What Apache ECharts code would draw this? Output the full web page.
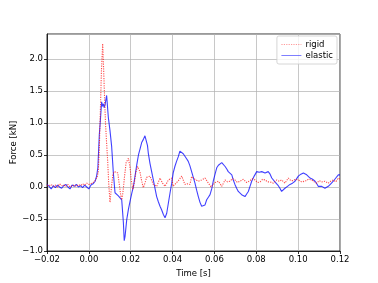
<!DOCTYPE html>
<html>
<head>
<meta charset="utf-8">
<script src="https://cdn.jsdelivr.net/npm/echarts@6/dist/echarts.min.js"></script>
<style>html,body{margin:0;padding:0;background:#fff}#c{width:378px;height:283px}</style>
</head>
<body>
<div id="c"></div>
<script>
var xTicks = [-0.02, 0.00, 0.02, 0.04, 0.06, 0.08, 0.10, 0.12];
var yTicks = [-1.0, -0.5, 0.0, 0.5, 1.0, 1.5, 2.0];
var seriesNames = ['rigid', 'elastic'];

var rigidTime = [-0.020,-0.019,-0.018,-0.017,-0.016,-0.015,-0.014,-0.013,-0.012,-0.011,-0.010,-0.009,-0.008,-0.007,-0.006,-0.005,-0.004,-0.003,-0.002,-0.001,0.000,0.001,0.002,0.003,0.004,0.0045,0.005,0.0055,0.006,0.0066,0.007,0.0075,0.008,0.009,0.0095,0.0101,0.0108,0.0115,0.0122,0.013,0.0138,0.0145,0.0152,0.0157,0.0163,0.017,0.0178,0.0189,0.0197,0.0203,0.021,0.0218,0.0226,0.0233,0.0244,0.0252,0.026,0.0268,0.0276,0.0292,0.0308,0.0324,0.034,0.0352,0.0364,0.038,0.0396,0.0403,0.0412,0.0428,0.0444,0.0459,0.047,0.0483,0.0491,0.0507,0.0523,0.0539,0.0555,0.0571,0.0584,0.0603,0.0619,0.0635,0.0651,0.0662,0.0674,0.0686,0.0698,0.071,0.0722,0.0738,0.0754,0.077,0.0782,0.0794,0.0806,0.0818,0.083,0.0842,0.0854,0.0866,0.0881,0.0898,0.091,0.0921,0.0937,0.0953,0.0965,0.0975,0.0988,0.1001,0.1017,0.1033,0.1049,0.1065,0.1077,0.1089,0.1101,0.1113,0.1128,0.1144,0.1156,0.1168,0.118,0.1192,0.120];
var rigidForce = [0.03,0.02,0.04,0.01,0.03,0.00,0.05,0.02,0.03,0.01,0.04,0.00,0.02,0.03,0.01,0.04,0.02,0.05,0.03,0.06,0.04,0.05,0.07,0.10,0.16,0.24,0.60,1.20,1.80,2.24,1.90,1.40,0.96,0.40,0.05,-0.24,0.00,0.20,0.24,0.26,0.22,0.05,-0.12,-0.20,-0.08,0.15,0.38,0.45,0.30,0.10,-0.04,0.08,0.25,0.32,0.24,0.10,-0.01,0.06,0.15,0.17,0.04,0.01,0.14,0.06,0.01,0.11,0.14,0.01,0.04,0.10,0.17,0.04,0.05,0.04,0.16,0.12,0.09,0.11,0.14,0.06,0.00,0.07,0.09,0.01,0.11,0.08,0.09,0.13,0.11,0.07,0.09,0.12,0.07,0.10,0.13,0.11,0.07,0.08,0.12,0.11,0.08,0.08,0.06,0.11,0.09,0.11,0.06,0.14,0.10,0.10,0.12,0.11,0.08,0.09,0.12,0.11,0.08,0.06,0.10,0.08,0.09,0.06,0.09,0.11,0.08,0.14,0.12];

var elasticTime = [-0.020,-0.019,-0.018,-0.017,-0.016,-0.015,-0.014,-0.013,-0.012,-0.011,-0.010,-0.009,-0.008,-0.007,-0.006,-0.005,-0.004,-0.003,-0.002,-0.001,0.000,0.001,0.002,0.003,0.0037,0.0043,0.005,0.0055,0.0061,0.0065,0.0069,0.0073,0.0077,0.0085,0.0093,0.0101,0.0109,0.0117,0.0125,0.0133,0.0141,0.0149,0.0157,0.0165,0.0169,0.0173,0.0181,0.0189,0.0197,0.0205,0.0213,0.0221,0.0229,0.0237,0.0245,0.0253,0.026,0.0268,0.0276,0.028,0.0284,0.0292,0.03,0.0308,0.0316,0.0324,0.0332,0.034,0.0348,0.0356,0.0364,0.0372,0.038,0.0388,0.0396,0.0403,0.0411,0.0419,0.0427,0.0435,0.0444,0.0451,0.0459,0.0467,0.0475,0.0483,0.0491,0.0499,0.0507,0.0515,0.0523,0.0531,0.0539,0.0547,0.0555,0.0563,0.0571,0.0579,0.0587,0.0595,0.0603,0.0611,0.0619,0.0627,0.0635,0.0643,0.0651,0.0659,0.0666,0.0675,0.0683,0.069,0.0698,0.0706,0.0714,0.0722,0.073,0.0738,0.0746,0.0754,0.0762,0.077,0.0778,0.079,0.0802,0.0814,0.0826,0.0834,0.0842,0.085,0.0857,0.0866,0.0874,0.0881,0.0889,0.0897,0.0905,0.0913,0.0921,0.0929,0.0937,0.0949,0.0961,0.0973,0.0985,0.0993,0.1001,0.1013,0.1025,0.1033,0.1041,0.1049,0.1057,0.1069,0.1081,0.1089,0.1096,0.1104,0.1113,0.1121,0.1128,0.1136,0.1144,0.1156,0.1168,0.118,0.1192,0.120];
var elasticForce = [0.04,0.01,-0.03,0.02,-0.01,0.03,0.00,-0.02,0.02,0.04,0.00,-0.03,0.03,0.01,0.04,0.00,0.02,-0.01,0.03,0.00,-0.03,0.03,0.05,0.09,0.17,0.30,0.82,1.04,1.33,1.26,1.30,1.24,1.28,1.43,1.09,0.88,0.63,0.22,-0.09,-0.12,-0.14,-0.17,-0.20,-0.56,-0.84,-0.77,-0.51,-0.35,-0.22,-0.10,0.01,0.18,0.35,0.50,0.60,0.70,0.74,0.80,0.79,0.65,0.53,0.37,0.24,0.11,-0.02,-0.15,-0.23,-0.30,-0.36,-0.43,-0.48,-0.41,-0.25,-0.09,0.06,0.22,0.32,0.40,0.47,0.56,0.54,0.52,0.48,0.44,0.40,0.33,0.24,0.15,0.06,-0.05,-0.15,-0.24,-0.30,-0.33,-0.28,-0.20,-0.16,-0.12,-0.03,0.10,0.20,0.30,0.34,0.37,0.38,0.40,0.32,0.28,0.24,0.22,0.19,0.11,0.04,-0.02,-0.07,-0.10,-0.12,-0.13,-0.15,-0.11,-0.07,0.01,0.09,0.17,0.24,0.23,0.24,0.22,0.22,0.24,0.24,0.20,0.14,0.11,0.08,0.05,0.02,-0.02,-0.07,-0.04,-0.02,0.01,0.04,0.06,0.09,0.13,0.17,0.20,0.22,0.21,0.19,0.17,0.14,0.12,0.09,0.05,0.01,0.02,0.01,-0.01,-0.02,0.00,0.01,0.05,0.09,0.14,0.19,0.19];

function zip(t, v) { return t.map(function (x, i) { return [x, v[i]]; }); }
function fmt(v, d) {
  var s = Math.abs(v).toFixed(d);
  return (v < -1e-9 ? '\u2212' : '') + s;
}

var chart = echarts.init(document.getElementById('c'), null, { renderer: 'canvas' });
var font = 'DejaVu Sans';
var fs = 8.5;
chart.setOption({
  animation: false,
  backgroundColor: '#ffffff',
  textStyle: { fontFamily: font },
  grid: { left: 47, right: 38, top: 34, bottom: 32, containLabel: false, outerBoundsMode: 'none',
    show: true, borderColor: '#000', borderWidth: 0.8, backgroundColor: 'transparent' },
  legend: {
    right: 41, top: 36,
    orient: 'vertical',
    data: [
      { name: seriesNames[0], itemStyle: { opacity: 0 }, lineStyle: { width: 1, opacity: 0.4 } },
      { name: seriesNames[1], itemStyle: { opacity: 0 }, lineStyle: { width: 1, opacity: 0.5 } }
    ],
    itemWidth: 20, itemHeight: 8, itemGap: 2,
    padding: [4, 4, 4, 4],
    backgroundColor: 'rgba(255,255,255,0.8)',
    borderColor: '#cccccc', borderWidth: 0.8, borderRadius: 2,
    textStyle: { fontFamily: font, fontSize: fs, color: '#000', padding: [0, 0, 0, -1] }
  },
  xAxis: {
    type: 'value', min: xTicks[0], max: xTicks[xTicks.length - 1], interval: 0.02,
    name: 'Time [s]', nameLocation: 'middle', nameGap: 18, nameMoveOverlap: false,
    nameTextStyle: { fontFamily: font, fontSize: fs, color: '#000' },
    axisLine: { onZero: false, lineStyle: { color: '#000', width: 0.8 } },
    axisTick: { show: true, length: 3, lineStyle: { color: '#000', width: 0.8 } },
    axisLabel: { color: '#000', fontSize: fs, fontFamily: font, margin: 4, formatter: function (v) { return fmt(v, 2); } },
    splitLine: { show: true, lineStyle: { color: '#b0b0b0', width: 0.7 } }
  },
  yAxis: {
    type: 'value', min: yTicks[0], max: 2.39, interval: 0.5,
    name: 'Force [kN]', nameLocation: 'middle', nameGap: 29, nameRotate: 90, nameMoveOverlap: false,
    nameTextStyle: { fontFamily: font, fontSize: fs, color: '#000' },
    axisLine: { onZero: false, lineStyle: { color: '#000', width: 0.8 } },
    axisTick: { show: true, length: 3, lineStyle: { color: '#000', width: 0.8 } },
    axisLabel: { color: '#000', fontSize: fs, fontFamily: font, margin: 4, showMaxLabel: false,
      formatter: function (v) { return yTicks.some(function (t) { return Math.abs(t - v) < 1e-6; }) ? fmt(v, 1) : ''; } },
    splitLine: { show: true, lineStyle: { color: '#b0b0b0', width: 0.7 } }
  },
  series: [
    { name: seriesNames[0], type: 'line', data: zip(rigidTime, rigidForce), showSymbol: false, symbol: 'none',
      lineStyle: { color: '#ff0000', width: 1.1, type: [1.2, 1.2], opacity: 0.7 }, itemStyle: { color: '#ff0000' }, z: 3 },
    { name: seriesNames[1], type: 'line', data: zip(elasticTime, elasticForce), showSymbol: false, symbol: 'none',
      lineStyle: { color: '#0000ff', width: 1.1, opacity: 0.75 }, itemStyle: { color: '#0000ff' }, z: 2 }
  ]
});
</script>
</body>
</html>
